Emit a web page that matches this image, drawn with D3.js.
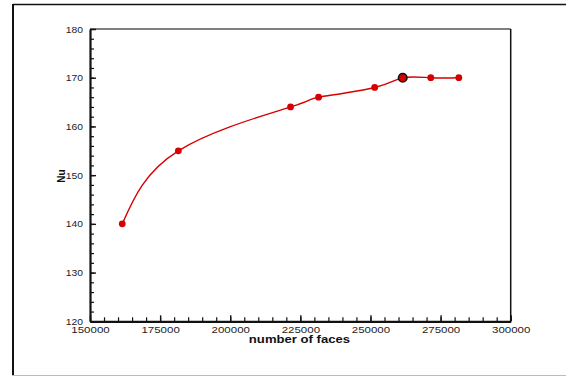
<!DOCTYPE html>
<html>
<head>
<meta charset="utf-8">
<script src="https://cdn.jsdelivr.net/npm/d3@7"></script>
<style>
  body { margin: 0; background: #fff; }
  svg { display: block; font-family: "Liberation Sans", Arial, sans-serif; }
</style>
</head>
<body>
<div id="chart"></div>
<script>
// mesh independence study: Nu vs number of faces
const faces = [161500, 181500, 221500, 231500, 251500, 261500, 271500, 281500];
const nu = [140, 155, 164, 166, 168, 170, 170, 170];
const selectedFaces = 261500; // chosen mesh (circled)

const xTicks = [150000, 175000, 200000, 225000, 250000, 275000, 300000];
const yTicks = [120, 130, 140, 150, 160, 170, 180];
const xMinor = d3.range(150000, 300001, 5000);
const yMinor = d3.range(120, 181, 2);

const W = 566, H = 376;
const margin = { top: 29, left: 90 };
const width = 420.7, height = 292.3;
const red = '#d60000';

const svg = d3.select('#chart').append('svg')
  .attr('width', W)
  .attr('height', H);

// outer frame
svg.append('line').attr('x1', 13).attr('x2', W).attr('y1', 4.5).attr('y2', 4.5)
  .attr('stroke', '#111').attr('stroke-width', 1.6);
svg.append('line').attr('x1', 13).attr('x2', 13).attr('y1', 4).attr('y2', 375.5)
  .attr('stroke', '#111').attr('stroke-width', 2);
svg.append('line').attr('x1', 12).attr('x2', W).attr('y1', 375.5).attr('y2', 375.5)
  .attr('stroke', '#bbb').attr('stroke-width', 1.2);

const g = svg.append('g').attr('transform', 'translate(' + margin.left + ',' + margin.top + ')');

const x = d3.scaleLinear().domain([150000, 300000]).range([0, width]);
const y = d3.scaleLinear().domain([120, 180]).range([height, 0]);

// top and right borders of the plot box
g.append('line').attr('x1', 0).attr('x2', width).attr('y1', 0).attr('y2', 0)
  .attr('stroke', '#555').attr('stroke-width', 1.6);
g.append('line').attr('x1', width).attr('x2', width).attr('y1', 0).attr('y2', height)
  .attr('stroke', '#111').attr('stroke-width', 1.5);

// minor ticks
g.append('g')
  .attr('transform', 'translate(0,' + height + ')')
  .call(d3.axisBottom(x).tickValues(xMinor).tickSizeInner(-4).tickSizeOuter(0).tickFormat(''))
  .call(a => a.select('.domain').remove())
  .call(a => a.selectAll('line').attr('stroke', '#111').attr('stroke-width', 1.2));
g.append('g')
  .call(d3.axisLeft(y).tickValues(yMinor).tickSizeInner(-4).tickSizeOuter(0).tickFormat(''))
  .call(a => a.select('.domain').remove())
  .call(a => a.selectAll('line').attr('stroke', '#111').attr('stroke-width', 1.2));

// major ticks + labels
const xAxis = g.append('g')
  .attr('transform', 'translate(0,' + height + ')')
  .call(d3.axisBottom(x).tickValues(xTicks).tickSizeInner(-6).tickSizeOuter(0).tickPadding(0).tickFormat(d3.format('d')));
xAxis.select('.domain').attr('stroke', '#111').attr('stroke-width', 2.2);
xAxis.selectAll('line').attr('stroke', '#111').attr('stroke-width', 1.4);
xAxis.selectAll('text')
  .attr('y', 11.5).attr('dy', null)
  .attr('fill', '#222')
  .style('font-size', '9.2px')
  .attr('transform', 'scale(1.25,1)');

const yAxis = g.append('g')
  .call(d3.axisLeft(y).tickValues(yTicks).tickSizeInner(-6).tickSizeOuter(0).tickFormat(d3.format('d')));
yAxis.select('.domain').attr('stroke', '#111').attr('stroke-width', 2.2);
yAxis.selectAll('line').attr('stroke', '#111').attr('stroke-width', 1.4);
yAxis.selectAll('text')
  .attr('x', -7 / 1.2).attr('dy', '0.35em')
  .attr('fill', '#222')
  .style('font-size', '8.6px')
  .attr('transform', 'scale(1.2,1)');

// axis titles
svg.append('text')
  .attr('transform', 'translate(299.5,343) scale(1.25,1)')
  .attr('text-anchor', 'middle')
  .style('font-size', '10.5px').style('font-weight', 'bold')
  .attr('fill', '#111')
  .text('number of faces');
svg.append('text')
  .attr('transform', 'translate(64.5,176) rotate(-90)')
  .attr('text-anchor', 'middle')
  .style('font-size', '10px').style('font-weight', 'bold')
  .attr('fill', '#111')
  .text('Nu');

// curve + points
const pts = faces.map((f, i) => ({ f: f, v: nu[i] }));
const line = d3.line().x(d => x(d.f)).y(d => y(d.v)).curve(d3.curveNatural);

g.append('path')
  .datum(pts)
  .attr('d', line)
  .attr('fill', 'none')
  .attr('stroke', red)
  .attr('stroke-width', 1.4);

g.selectAll('circle.pt')
  .data(pts)
  .enter().append('circle')
  .attr('class', 'pt')
  .attr('cx', d => x(d.f))
  .attr('cy', d => y(d.v))
  .attr('r', d => d.f === selectedFaces ? 4.3 : 3.4)
  .attr('fill', red)
  .attr('stroke', d => d.f === selectedFaces ? '#111' : 'none')
  .attr('stroke-width', 1.5);
</script>
</body>
</html>
